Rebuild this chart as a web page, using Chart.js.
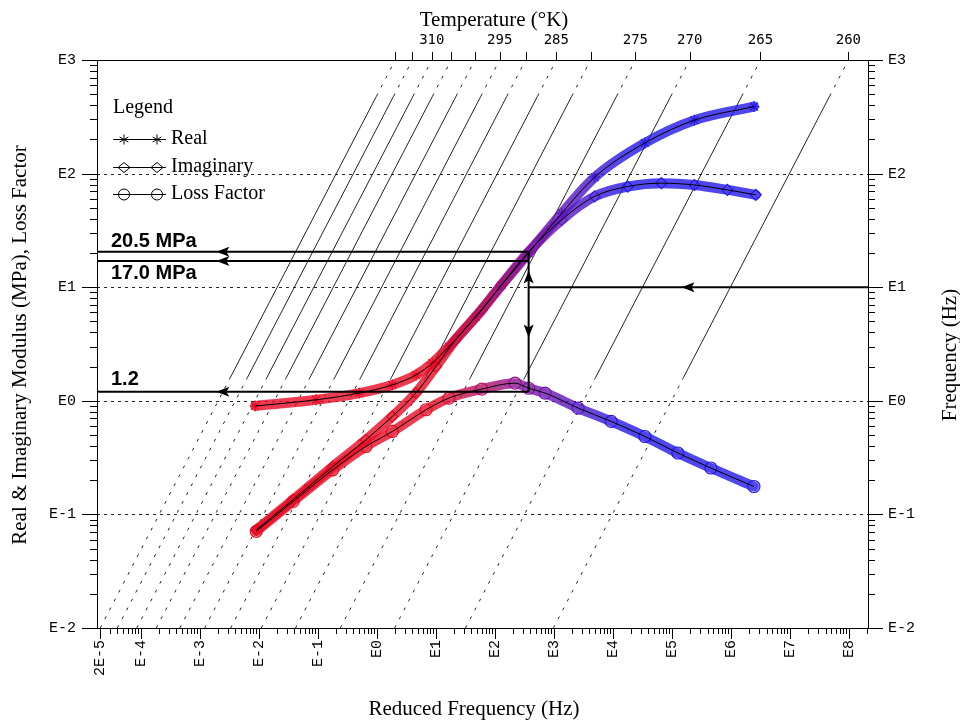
<!DOCTYPE html>
<html>
<head>
<meta charset="utf-8">
<title>Reduced frequency nomogram</title>
<script src="https://cdn.jsdelivr.net/npm/chart.js@4.4.1/dist/chart.umd.min.js"></script>
<style>
  html, body { margin: 0; padding: 0; background: #fff; }
  #wrap { position: relative; width: 960px; height: 720px; }
</style>
</head>
<body>
<div id="wrap"><canvas id="nomo"></canvas></div>
<script>
// axis limits
const X_MIN = 1.8e-5, X_MAX = 2.1e8;
const Y_MIN = 1e-2, Y_MAX = 1e3;

// tick labels
const X_TICKS = [2e-5, 1e-4, 1e-3, 1e-2, 1e-1, 1, 1e1, 1e2, 1e3, 1e4, 1e5, 1e6, 1e7, 1e8];
const X_LABELS = ['2E-5', 'E-4', 'E-3', 'E-2', 'E-1', 'E0', 'E1', 'E2', 'E3', 'E4', 'E5', 'E6', 'E7', 'E8'];
const Y_TICKS = [1e-2, 1e-1, 1, 1e1, 1e2, 1e3];
const Y_LABELS = ['E-2', 'E-1', 'E0', 'E1', 'E2', 'E3'];
const GRID_Y = [1e-1, 1, 1e1, 1e2];

// isotherms: temperature (K) and log10 of the shift factor aT
const TEMPS = [320, 315, 310, 305, 300, 295, 290, 285, 280, 275, 270, 265, 260];
const TEMP_LABELS = ['', '', '310', '', '', '295', '', '285', '', '275', '270', '265', '260'];
const LOG_SHIFT = [-2.69, -2.40, -2.07, -1.74, -1.34, -0.92, -0.48, 0.04, 0.62, 1.38, 2.30, 3.50, 4.99];
const TEST_RANGE = [1.6, 480]; // Hz, solid part of each isotherm

// measured master curves (reduced frequency in Hz)
const REAL_FREQ = [0.0086, 0.093, 0.50, 1.82, 4.6, 8.7, 16.6, 47, 129, 372, 1350, 4900, 34700, 240000, 2450000];
const REAL_MOD = [0.90, 1.02, 1.17, 1.38, 1.69, 2.15, 3.0, 5.5, 10.4, 20.0, 44.7, 93, 186, 295, 389];

const IMAG_FREQ = [0.009, 0.038, 0.178, 0.65, 1.82, 4.57, 10, 21.4, 60, 129, 372, 1350, 4900, 17800, 66000, 240000, 870000, 2630000];
const IMAG_MOD = [0.073, 0.135, 0.264, 0.454, 0.728, 1.17, 2.0, 3.44, 6.3, 10.5, 20.5, 39.2, 63, 76.9, 82.4, 79.4, 71.9, 65.0];

const LOSS_FREQ = [0.009, 0.038, 0.178, 0.65, 1.82, 6.8, 16.6, 60, 219, 372, 708, 2570, 9330, 34700, 126000, 457000, 2450000];
const LOSS_FACTOR = [0.071, 0.130, 0.247, 0.396, 0.537, 0.834, 1.057, 1.268, 1.43, 1.29, 1.17, 0.863, 0.658, 0.485, 0.347, 0.256, 0.176];

// read-off annotation
const TEST_FREQ = 10;        // Hz on right axis
const TEST_FR = 372;         // reduced frequency of the read-off
const READ_IMAG = 20.5, READ_REAL = 17.0, READ_LOSS = 1.2;
const ARROW_LEFT_X = 0.0019, ARROW_RIGHT_X = 1.45e5;
const ARROW_UP_Y = 14, ARROW_DOWN_Y = 3.6;

const RED = [232, 10, 36], PURPLE = [125, 20, 165], BLUE = [36, 24, 232];

function mix(a, b, t) {
  return a.map((v, i) => Math.round(v + (b[i] - v) * t));
}
function colorFor(freq, alpha) {
  let t = (Math.log10(freq) - 1.0) / 3.2;
  t = Math.max(0, Math.min(1, t));
  const c = t < 0.5 ? mix(RED, PURPLE, t * 2) : mix(PURPLE, BLUE, (t - 0.5) * 2);
  return 'rgba(' + c[0] + ',' + c[1] + ',' + c[2] + ',' + (alpha == null ? 1 : alpha) + ')';
}
function bandColor(alpha) {
  return function (ctx) {
    const chart = ctx.chart;
    if (!chart.chartArea) return colorFor(1, alpha);
    const sx = chart.scales.x;
    const g = chart.ctx.createLinearGradient(sx.getPixelForValue(10), 0, sx.getPixelForValue(Math.pow(10, 4.2)), 0);
    g.addColorStop(0, colorFor(10, alpha));
    g.addColorStop(0.5, colorFor(Math.pow(10, 2.6), alpha));
    g.addColorStop(1, colorFor(Math.pow(10, 4.2), alpha));
    return g;
  };
}
const pts = (xs, ys) => xs.map((x, i) => ({ x: x, y: ys[i] }));

const datasets = [];

// isotherms
TEMPS.forEach(function (t, i) {
  const aT = Math.pow(10, LOG_SHIFT[i]);
  datasets.push({
    label: t + ' K',
    data: [Y_MIN, TEST_RANGE[0], TEST_RANGE[1], Y_MAX].map(f => ({ x: f * aT, y: f })),
    borderColor: '#222',
    borderWidth: 1,
    pointRadius: 0,
    order: 5,
    segment: { borderDash: c => (c.p0DataIndex === 1 ? undefined : [3, 7]) }
  });
});

// data bands with markers, then fitted curves on top
[
  { label: 'Real', xs: REAL_FREQ, ys: REAL_MOD, style: 'star', r: 5.5 },
  { label: 'Imaginary', xs: IMAG_FREQ, ys: IMAG_MOD, style: 'rectRot', r: 5.5 },
  { label: 'Loss Factor', xs: LOSS_FREQ, ys: LOSS_FACTOR, style: 'circle', r: 6 }
].forEach(function (s) {
  datasets.push({
    label: s.label,
    data: pts(s.xs, s.ys),
    borderColor: bandColor(0.8),
    borderWidth: 10,
    borderCapStyle: 'round',
    cubicInterpolationMode: 'monotone',
    pointStyle: s.style,
    pointRadius: s.r,
    pointBorderWidth: 1.2,
    pointBackgroundColor: 'rgba(0,0,0,0)',
    pointBorderColor: c => (c.raw ? colorFor(c.raw.x) : colorFor(1)),
    order: 3
  });
  datasets.push({
    label: s.label + ' fit',
    data: pts(s.xs, s.ys),
    borderColor: '#000',
    borderWidth: 1,
    cubicInterpolationMode: 'monotone',
    pointRadius: 0,
    order: 1
  });
});

// read-off lines
[
  [{ x: X_MIN, y: READ_IMAG }, { x: TEST_FR, y: READ_IMAG }],
  [{ x: X_MIN, y: READ_REAL }, { x: TEST_FR, y: READ_REAL }],
  [{ x: X_MIN, y: READ_LOSS }, { x: TEST_FR, y: READ_LOSS }],
  [{ x: TEST_FR, y: READ_LOSS }, { x: TEST_FR, y: READ_IMAG }],
  [{ x: TEST_FR, y: TEST_FREQ }, { x: X_MAX, y: TEST_FREQ }]
].forEach(function (d) {
  datasets.push({ data: d, borderColor: '#000', borderWidth: 2, pointRadius: 0, order: 0 });
});

function arrowHead(ctx, tx, ty, dx, dy) {
  const len = 13, half = 5, notch = 3;
  const bx = tx - dx * len, by = ty - dy * len;
  const nx = -dy, ny = dx;
  ctx.beginPath();
  ctx.moveTo(tx, ty);
  ctx.lineTo(bx + nx * half, by + ny * half);
  ctx.lineTo(tx - dx * (len - notch), ty - dy * (len - notch));
  ctx.lineTo(bx - nx * half, by - ny * half);
  ctx.closePath();
  ctx.fill();
}

function legendMarker(ctx, style, cx, cy) {
  ctx.beginPath();
  if (style === 'star') {
    const r = 5;
    ctx.moveTo(cx, cy - r); ctx.lineTo(cx, cy + r);
    ctx.moveTo(cx - r * 0.87, cy - r * 0.5); ctx.lineTo(cx + r * 0.87, cy + r * 0.5);
    ctx.moveTo(cx - r * 0.87, cy + r * 0.5); ctx.lineTo(cx + r * 0.87, cy - r * 0.5);
  } else if (style === 'diamond') {
    ctx.moveTo(cx, cy - 5); ctx.lineTo(cx + 6, cy); ctx.lineTo(cx, cy + 5); ctx.lineTo(cx - 6, cy); ctx.closePath();
  } else {
    ctx.arc(cx, cy, 5.5, 0, Math.PI * 2);
  }
  ctx.stroke();
}

function logMarks(min, max) {
  const out = [];
  for (let e = Math.floor(Math.log10(min)); e <= Math.ceil(Math.log10(max)); e++) {
    for (let m = 1; m <= 9; m++) {
      const v = m * Math.pow(10, e);
      if (v >= min * 0.999 && v <= max * 1.001) out.push({ v: v, major: m === 1 });
    }
  }
  return out;
}

const nomogramDecor = {
  id: 'nomogramDecor',
  beforeDatasetsDraw(chart) {
    const { ctx, chartArea: a, scales } = chart;
    ctx.save();
    ctx.strokeStyle = '#222';
    ctx.lineWidth = 1;
    ctx.setLineDash([3, 4]);
    GRID_Y.forEach(function (v) {
      const py = Math.round(scales.y.getPixelForValue(v)) + 0.5;
      ctx.beginPath(); ctx.moveTo(a.left, py); ctx.lineTo(a.right, py); ctx.stroke();
    });
    ctx.restore();
  },
  afterDatasetsDraw(chart) {
    const { ctx, chartArea: a, scales } = chart;
    const x = scales.x, y = scales.y, xT = scales.xT;
    ctx.save();
    ctx.strokeStyle = '#000';
    ctx.fillStyle = '#000';
    ctx.lineWidth = 1;
    ctx.strokeRect(a.left + 0.5, a.top + 0.5, a.right - a.left, a.bottom - a.top);

    // tick marks
    ctx.beginPath();
    logMarks(Y_MIN, Y_MAX).forEach(function (m) {
      const py = Math.round(y.getPixelForValue(m.v)) + 0.5;
      const len = m.major ? 15 : 7;
      ctx.moveTo(a.left - len, py); ctx.lineTo(a.left, py);
      ctx.moveTo(a.right, py); ctx.lineTo(a.right + len, py);
    });
    logMarks(X_MIN, X_MAX).forEach(function (m) {
      const px = Math.round(x.getPixelForValue(m.v)) + 0.5;
      const len = (m.major || m.v === 2e-5) ? 11 : 6;
      ctx.moveTo(px, a.bottom); ctx.lineTo(px, a.bottom + len);
    });
    LOG_SHIFT.forEach(function (s) {
      const px = Math.round(xT.getPixelForValue(Y_MAX * Math.pow(10, s))) + 0.5;
      ctx.moveTo(px, a.top); ctx.lineTo(px, a.top - 8);
    });
    ctx.stroke();

    // arrowheads on the read-off lines
    const lx = x.getPixelForValue(ARROW_LEFT_X);
    [READ_IMAG, READ_REAL, READ_LOSS].forEach(v => arrowHead(ctx, lx, y.getPixelForValue(v), -1, 0));
    arrowHead(ctx, x.getPixelForValue(ARROW_RIGHT_X), y.getPixelForValue(TEST_FREQ), -1, 0);
    const vx = x.getPixelForValue(TEST_FR);
    arrowHead(ctx, vx, y.getPixelForValue(ARROW_UP_Y), 0, -1);
    arrowHead(ctx, vx, y.getPixelForValue(ARROW_DOWN_Y), 0, 1);

    // read-off values
    ctx.font = 'bold 20px "Liberation Sans", Arial, sans-serif';
    ctx.textBaseline = 'middle';
    ctx.textAlign = 'left';
    ctx.fillText('20.5 MPa', 111, 241);
    ctx.fillText('17.0 MPa', 111, 273);
    ctx.fillText('1.2', 111, 379);

    // legend
    ctx.font = '20px "Liberation Serif", "Times New Roman", serif';
    ctx.fillText('Legend', 113, 108);
    [['Real', 'star', 139], ['Imaginary', 'diamond', 167], ['Loss Factor', 'circle', 194]].forEach(function (e) {
      ctx.beginPath(); ctx.moveTo(113, e[2] + 0.5); ctx.lineTo(166, e[2] + 0.5); ctx.stroke();
      legendMarker(ctx, e[1], 124, e[2] + 0.5);
      legendMarker(ctx, e[1], 157, e[2] + 0.5);
      ctx.fillText(e[0], 171, e[2]);
    });

    // axis titles
    ctx.font = '21px "Liberation Serif", "Times New Roman", serif';
    ctx.textAlign = 'center';
    ctx.fillText('Temperature (\u00B0K)', 494, 20);
    ctx.fillText('Reduced Frequency (Hz)', 474, 709);
    ctx.save();
    ctx.translate(20, 345); ctx.rotate(-Math.PI / 2);
    ctx.fillText('Real & Imaginary Modulus (MPa), Loss Factor', 0, 0);
    ctx.restore();
    ctx.save();
    ctx.translate(950, 355); ctx.rotate(-Math.PI / 2);
    ctx.fillText('Frequency (Hz)', 0, 0);
    ctx.restore();
    ctx.restore();
  }
};

const monoFont = { family: '"Liberation Mono", "Courier New", monospace', size: 15 };
const hidden = { color: 'rgba(0,0,0,0)', drawOnChartArea: false };

new Chart(document.getElementById('nomo'), {
  type: 'line',
  data: { datasets: datasets },
  options: {
    responsive: true,
    maintainAspectRatio: false,
    animation: false,
    layout: { padding: 0 },
    elements: { line: { tension: 0 } },
    plugins: { legend: { display: false }, tooltip: { enabled: false } },
    scales: {
      x: {
        type: 'logarithmic', position: 'bottom', min: X_MIN, max: X_MAX,
        afterBuildTicks: s => { s.ticks = X_TICKS.map(v => ({ value: v })); },
        afterFit: s => { s.height = 92; },
        grid: Object.assign({ tickLength: 10 }, hidden),
        border: { display: false },
        ticks: { autoSkip: false, minRotation: 90, maxRotation: 90, padding: 2, color: '#000', font: monoFont,
          callback: (v, i) => X_LABELS[i] }
      },
      xT: {
        type: 'logarithmic', position: 'top', axis: 'x', min: X_MIN, max: X_MAX,
        afterBuildTicks: s => { s.ticks = LOG_SHIFT.map(l => ({ value: Y_MAX * Math.pow(10, l) })); },
        afterFit: s => { s.height = 60; },
        grid: Object.assign({ tickLength: 8 }, hidden),
        border: { display: false },
        ticks: { autoSkip: false, maxRotation: 0, padding: 3, color: '#000',
          font: { family: '"DejaVu Sans Mono", monospace', size: 14 },
          callback: (v, i) => TEMP_LABELS[i] }
      },
      y: {
        type: 'logarithmic', position: 'left', min: Y_MIN, max: Y_MAX,
        afterBuildTicks: s => { s.ticks = Y_TICKS.map(v => ({ value: v })); },
        afterFit: s => { s.width = 97; },
        grid: Object.assign({ tickLength: 15 }, hidden),
        border: { display: false },
        ticks: { padding: 6, color: '#000', font: monoFont, callback: (v, i) => Y_LABELS[i] }
      },
      y2: {
        type: 'logarithmic', position: 'right', axis: 'y', min: Y_MIN, max: Y_MAX,
        afterBuildTicks: s => { s.ticks = Y_TICKS.map(v => ({ value: v })); },
        afterFit: s => { s.width = 92; },
        grid: Object.assign({ tickLength: 14 }, hidden),
        border: { display: false },
        ticks: { padding: 6, color: '#000', font: monoFont, callback: (v, i) => Y_LABELS[i] }
      }
    }
  },
  plugins: [nomogramDecor]
});
</script>
</body>
</html>
